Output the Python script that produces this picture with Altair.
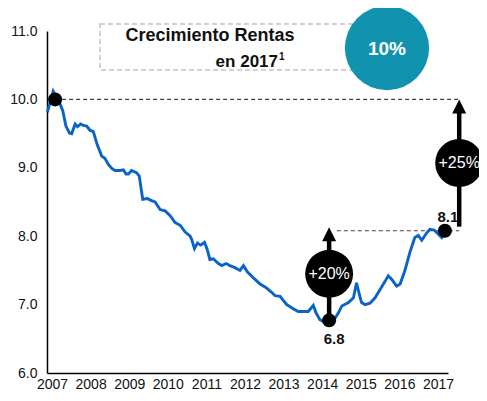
import altair as alt
import pandas as pd

# ---- data ----
years = [2006.88, 2007.03, 2007.21, 2007.28, 2007.36, 2007.45, 2007.51, 2007.60, 2007.66, 2007.74,
         2007.81, 2007.90, 2007.98, 2008.07, 2008.17, 2008.29, 2008.37, 2008.46, 2008.55, 2008.63,
         2008.76, 2008.85, 2008.92, 2008.98, 2009.06, 2009.19, 2009.26, 2009.35, 2009.47, 2009.58,
         2009.67, 2009.80, 2009.93, 2010.06, 2010.19, 2010.32, 2010.45, 2010.58, 2010.62, 2010.69,
         2010.77, 2010.85, 2010.95, 2011.02, 2011.09, 2011.18, 2011.31, 2011.40, 2011.51, 2011.61,
         2011.74, 2011.87, 2011.96, 2012.06, 2012.22, 2012.39, 2012.54, 2012.69, 2012.78, 2012.91,
         2013.08, 2013.25, 2013.38, 2013.51, 2013.64, 2013.77, 2013.84, 2013.94, 2014.07, 2014.18,
         2014.29, 2014.42, 2014.51, 2014.68, 2014.81, 2014.89, 2014.94, 2015.02, 2015.11, 2015.24,
         2015.37, 2015.50, 2015.63, 2015.71, 2015.80, 2015.93, 2016.02, 2016.15, 2016.27, 2016.40,
         2016.49, 2016.58, 2016.71, 2016.79, 2016.90, 2017.01, 2017.10, 2017.18]
values = [9.81, 10.12, 9.93, 9.83, 9.61, 9.51, 9.50, 9.64, 9.60, 9.64,
          9.62, 9.61, 9.55, 9.53, 9.34, 9.17, 9.14, 9.05, 8.99, 8.96,
          8.96, 8.97, 8.91, 8.91, 8.96, 8.93, 8.88, 8.54, 8.55, 8.52,
          8.50, 8.39, 8.37, 8.30, 8.20, 8.16, 8.06, 8.00, 7.95, 7.82,
          7.90, 7.87, 7.91, 7.81, 7.66, 7.67, 7.60, 7.57, 7.60, 7.57,
          7.54, 7.50, 7.57, 7.48, 7.39, 7.30, 7.25, 7.18, 7.13, 7.12,
          7.00, 6.94, 6.90, 6.90, 6.90, 6.99, 6.88, 6.78, 6.74, 6.77,
          6.76, 6.88, 6.98, 7.03, 7.10, 7.32, 7.20, 7.03, 7.00, 7.02,
          7.10, 7.22, 7.34, 7.42, 7.37, 7.27, 7.30, 7.51, 7.76, 7.98,
          8.01, 7.94, 8.05, 8.10, 8.09, 8.03, 7.98, 8.03]

marker_t = [2007.08, 2014.18, 2017.18]
marker_v = [10.0, 6.77, 8.08]
marker_label = ["", "6.8", "8.1"]

arrow_t = [2014.18, 2017.55]
arrow_from = [6.77, 8.14]
arrow_to = [8.13, 10.0]
arrow_label = ["+20%", "+25%"]

ref_start = [2007.08, 2014.38]
ref_end = [2017.55, 2017.55]
ref_level = [10.0, 8.08]

year_ticks = list(range(2007, 2018))
value_ticks = [6, 7, 8, 9, 10, 11]

title_line1 = "Crecimiento Rentas"
title_line2 = "en 2017"
title_sup = "1"
badge = "10%"

FONT = "Liberation Sans"

line_df = pd.DataFrame({"t": years, "v": values})
mark_df = pd.DataFrame({"t": marker_t, "v": marker_v, "label": marker_label})
arrow_df = pd.DataFrame({"t": arrow_t, "v": arrow_from, "v2": [b - 0.1 for b in arrow_to],
                         "tip": arrow_to, "label": arrow_label,
                         "mid": [(a + b) / 2 for a, b in zip(arrow_from, arrow_to)]})
ref_df = pd.DataFrame({"t": ref_start, "t2": ref_end, "v": ref_level})

xs = alt.Scale(domain=[2006.87, 2017.26], nice=False, zero=False)
ys = alt.Scale(domain=[6, 11], nice=False, zero=False)
x_axis = alt.Axis(values=year_ticks, format="d", title=None, ticks=False, grid=False,
                  labelFontSize=14, labelPadding=4, labelFlush=False, labelOverlap=False,
                  domainColor="black", domainWidth=1.5, labelColor="#111", labelFont=FONT)
y_axis = alt.Axis(values=value_ticks, format=".1f", title=None, ticks=False, grid=False,
                  labelFontSize=14, labelPadding=10, labelFlush=False, labelOverlap=False,
                  domainColor="black", domainWidth=1.5, labelColor="#111", labelFont=FONT)

X = lambda f="t": alt.X(f"{f}:Q", scale=xs, axis=x_axis)
Y = lambda f="v": alt.Y(f"{f}:Q", scale=ys, axis=y_axis)

one = alt.Data(values=[{}])

box = alt.Chart(one).mark_rect(fillOpacity=0, stroke="#c4c4c4", strokeDash=[5, 3], strokeWidth=1.5).encode(
    x=alt.value(53), x2=alt.value(313), y=alt.value(-7), y2=alt.value(39))

refs = alt.Chart(ref_df).mark_rule(color="#444", strokeDash=[4, 3], strokeWidth=1.2).encode(
    x=X(), x2="t2:Q", y=Y())

line = alt.Chart(line_df).mark_line(color="#0a64c8", strokeWidth=2.9).encode(x=X(), y=Y())

shafts = alt.Chart(arrow_df).mark_rule(color="black", strokeWidth=4.5).encode(
    x=X(), y=Y(), y2="v2:Q")
heads = alt.Chart(arrow_df).mark_point(shape="M0,0L1,2L-1,2Z", filled=True, size=196,
                                       color="black", opacity=1).encode(x=X(), y=Y("tip"))
bubbles = alt.Chart(arrow_df).mark_point(shape="circle", filled=True, size=2300,
                                         color="black", opacity=1).encode(x=X(), y=Y("mid"))
bubble_text = alt.Chart(arrow_df).mark_text(color="white", font=FONT, fontSize=16,
                                            baseline="middle").encode(x=X(), y=Y("mid"), text="label:N")

dots = alt.Chart(mark_df).mark_circle(size=196, color="black", opacity=1).encode(x=X(), y=Y())
dot_labels_up = alt.Chart(mark_df[mark_df["label"] == "8.1"]).mark_text(
    font=FONT, fontWeight="bold", fontSize=15, color="#111", dx=3, dy=-14).encode(
    x=X(), y=Y(), text="label:N")
dot_labels_down = alt.Chart(mark_df[mark_df["label"] == "6.8"]).mark_text(
    font=FONT, fontWeight="bold", fontSize=15, color="#111", dx=5, dy=19).encode(
    x=X(), y=Y(), text="label:N")

teal = alt.Chart(one).mark_point(shape="circle", filled=True, size=7100, color="#1192ae",
                                 opacity=1).encode(x=alt.value(340), y=alt.value(17))
teal_text = alt.Chart(one).mark_text(text=badge, color="white", font=FONT, fontWeight="bold",
                                     fontSize=19, baseline="middle").encode(
    x=alt.value(340), y=alt.value(18))

t1 = alt.Chart(one).mark_text(text=title_line1, font=FONT, fontWeight="bold", fontSize=18,
                              color="#111", align="center", baseline="alphabetic").encode(
    x=alt.value(163), y=alt.value(10))
t2 = alt.Chart(one).mark_text(text=title_line2, font=FONT, fontWeight="bold", fontSize=17,
                              color="#111", align="right", baseline="alphabetic").encode(
    x=alt.value(231), y=alt.value(36))
t3 = alt.Chart(one).mark_text(text=title_sup, font=FONT, fontWeight="bold", fontSize=10,
                              color="#111", align="left", baseline="alphabetic").encode(
    x=alt.value(232), y=alt.value(29))

chart = alt.layer(box, refs, line, shafts, heads, bubbles, bubble_text, dots,
                  dot_labels_up, dot_labels_down, teal, teal_text, t1, t2, t3).properties(
    width=401, height=342,
    autosize=alt.AutoSizeParams(type="none"),
    padding={"left": 39, "top": 23, "right": 31, "bottom": 20},
).configure_view(stroke=None)

chart.save("out.html", embed_options={"renderer": "svg", "actions": False})
